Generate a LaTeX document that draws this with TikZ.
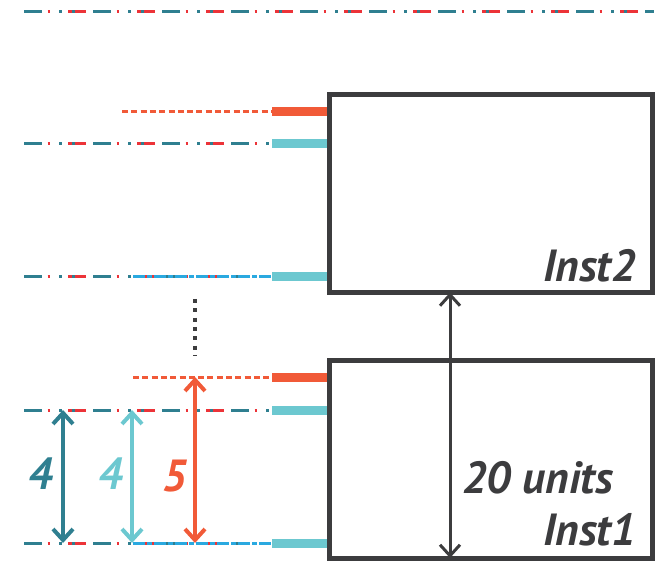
\documentclass[tikz,border=0pt]{standalone}
\usepackage{fontspec}
\setmainfont{PT Sans}
\usetikzlibrary{arrows.meta,positioning,calc}
\definecolor{ink}{HTML}{3C3C3E}
\definecolor{deepteal}{HTML}{2F7F90}
\definecolor{paleteal}{HTML}{6CC8D0}
\definecolor{flame}{HTML}{F15A38}
\definecolor{crimson}{HTML}{EC3338}
\definecolor{sky}{HTML}{2AA9E0}
\tikzset{
  instbox/.style={rectangle,draw=ink,line width=5pt,minimum width=323pt,minimum height=198pt,inner sep=0pt},
  biglabel/.style={font=\bfseries\itshape\fontsize{45}{50}\selectfont,inner sep=0pt},
  tealrail/.style={deepteal,line width=3pt,dash pattern=on 17.5pt off 17.5pt on 2.5pt off 10.5pt on 2.5pt off 18.5pt},
  redrail/.style={crimson,line width=3pt,dash pattern=on 17.5pt off 31pt on 2.5pt off 18pt,dash phase=25pt},
  skyrail/.style={sky,line width=3pt,dash pattern=on 12pt off 2pt on 5pt off 2pt},
  flamerail/.style={flame,line width=3pt,dash pattern=on 6pt off 3.3pt},
  stub/.style={line width=9pt},
  dimarrow/.style={{Straight Barb[length=11pt,width=20pt]}-{Straight Barb[length=11pt,width=20pt]},line width=4pt},
  gaugearrow/.style={{Straight Barb[length=11pt,width=20pt]}-{Straight Barb[length=11pt,width=20pt]},line width=3pt,ink}
}
\begin{document}
\begin{tikzpicture}[x=1pt,y=-1pt]
  \useasboundingbox (0,0) rectangle (664,561);
  % top rail
  \draw[redrail] (24,12) -- (654,12);
  \draw[tealrail] (24,12) -- (654,12);
  % rails of Inst2
  \draw[flamerail] (122,112) -- (272,112);
  \draw[redrail] (24,143.5) -- (272,143.5);
  \draw[tealrail] (24,143.5) -- (272,143.5);
  \draw[redrail] (24,277) -- (272,277);
  \draw[tealrail] (24,277) -- (272,277);
  \draw[skyrail] (133,277) -- (272,277);
  % rails of Inst1
  \draw[flamerail] (133,377) -- (272,377);
  \draw[redrail] (24,410) -- (272,410);
  \draw[tealrail] (24,410) -- (272,410);
  \draw[redrail] (24,543) -- (272,543);
  \draw[tealrail] (24,543) -- (272,543);
  \draw[skyrail] (133,543) -- (272,543);
  % stubs
  \draw[stub,flame] (272,112) -- (330,112);
  \draw[stub,paleteal] (272,143.5) -- (330,143.5);
  \draw[stub,paleteal] (272,277) -- (330,277);
  \draw[stub,flame] (272,377) -- (330,377);
  \draw[stub,paleteal] (272,410) -- (330,410);
  \draw[stub,paleteal] (272,543) -- (330,543);
  % instances
  \node[instbox] (inst2) at (491,193.5) {};
  \node[instbox] (inst1) at (491,459) {};
  \node[biglabel,text=ink,anchor=base east] (inst2lbl) at (636,282) {Inst2};
  \node[biglabel,text=ink,anchor=base east] (inst1lbl) at (636,545) {Inst1};
  \node[biglabel,text=ink,anchor=base west] (units) at (462,493) {20 units};
  \coordinate (gauge) at (450,0);
  \draw[gaugearrow,shorten <=2.5pt,shorten >=-2.5pt] (inst1.south -| gauge) -- (inst2.south -| gauge);
  % dots between instances
  \draw[ink,line width=4pt,dash pattern=on 4pt off 5.3pt] (195,299) -- (195,356);
  % dimensions
  \coordinate (railT) at (24,410);
  \coordinate (railB) at (24,543);
  \coordinate (railR) at (24,377);
  \draw[dimarrow,deepteal] ([xshift=39pt]railT) -- ([xshift=39pt]railB);
  \draw[dimarrow,paleteal] ([xshift=108pt]railT) -- ([xshift=108pt]railB);
  \draw[dimarrow,flame] ([xshift=171pt]railR) -- ([xshift=171pt]railB);
  \node[biglabel,text=deepteal,anchor=base east] (deeplbl) at (53,489) {4};
  \node[biglabel,text=paleteal,anchor=base east] (palelbl) at (123,489) {4};
  \node[biglabel,text=flame,anchor=base east] (flamelbl) at (187,491) {5};
\end{tikzpicture}
\end{document}
